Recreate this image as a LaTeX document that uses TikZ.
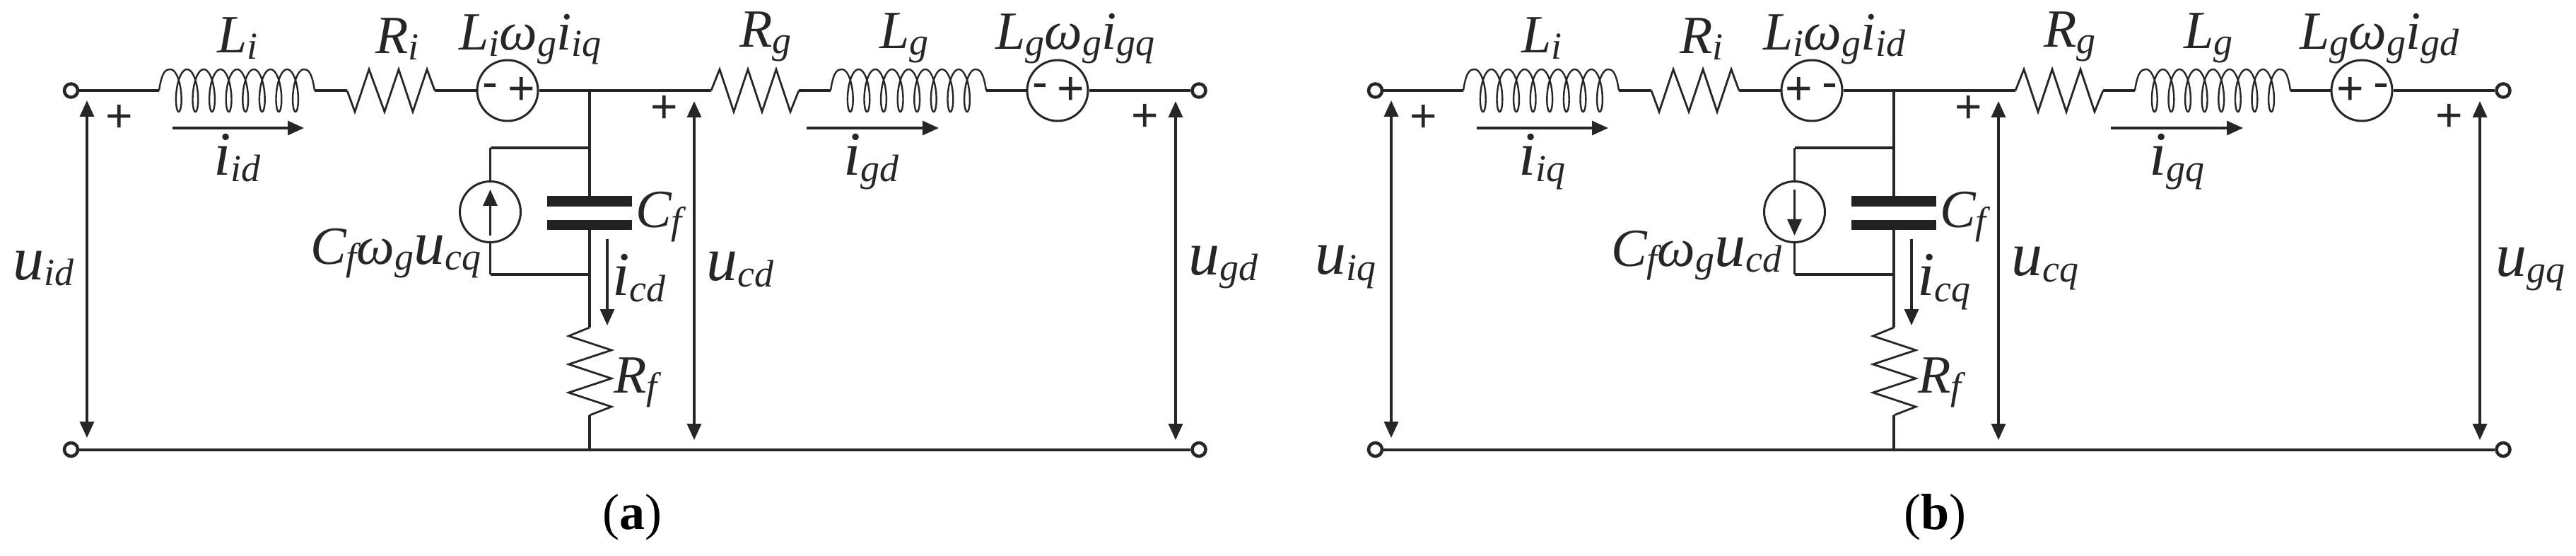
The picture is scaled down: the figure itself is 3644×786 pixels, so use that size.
\documentclass[tikz,border=0pt]{standalone}
\usepackage{fontspec}
\setmainfont{Liberation Serif}
\newfontfamily\signfont{Liberation Sans}
\usetikzlibrary{arrows.meta}
\definecolor{ink}{gray}{0.15}
\tikzset{
  wire/.style={draw=ink,line width=3.2pt},
  thinwire/.style={draw=ink,line width=2.8pt,line join=miter},
  coil/.style={draw=ink,line width=2.4pt},
  term/.style={circle,draw=ink,line width=4.5pt,fill=white,minimum size=19pt,inner sep=0pt},
  src/.style={circle,draw=ink,line width=3pt,fill=white,minimum size=86pt,inner sep=0pt},
  plate/.style={rectangle,fill=ink!90!black,minimum width=120pt,minimum height=14.5pt,inner sep=0pt},
  lbl/.style={anchor=base west,inner sep=0pt,text=ink},
  sign/.style={anchor=center,inner sep=0pt,text=ink,font=\signfont\fontsize{66}{70}\selectfont},
  arr/.style={draw=ink,line width=3.2pt,-{Triangle[length=23pt,width=20pt]}},
  darr/.style={draw=ink,line width=3.4pt,{Triangle[length=23pt,width=20pt]}-{Triangle[length=23pt,width=20pt]}},
  captxt/.style={anchor=base,inner sep=0pt,text=black,font=\fontsize{72}{76}\selectfont}
}
\newcommand{\lt}[1]{{\fontsize{76}{80}\selectfont\itshape #1}}
\newcommand{\uu}{{\fontsize{88}{90}\selectfont\itshape u}}
\newcommand{\ii}{{\fontsize{88}{90}\selectfont\itshape i}}
\newcommand{\sbs}[1]{\raisebox{-9pt}{\fontsize{54}{58}\selectfont\itshape #1}}
\newcommand{\coilpath}[1]{%
  \draw[coil] (#1,128) .. controls (#1+4,100) and (#1+10,98) .. (#1+16,98)
    -- plot[domain=0:2880,samples=289,smooth] ({#1+16+23.6*(\x/360)+9*sin(\x)},{128-30*cos(\x)})
    .. controls (#1+210,98) and (#1+216,100) .. (#1+220,128);}
\newcommand{\panel}[2]{%
\begin{scope}[shift={(#2,0)}]
  \node[term] (#1tl) at (100.5,128) {};
  \node[term] (#1bl) at (100.5,635.5) {};
  \node[term] (#1tr) at (1696,128) {};
  \node[term] (#1br) at (1696,635.5) {};
  \node[src] (#1s1) at (718,128) {};
  \node[src] (#1s2) at (1496,128) {};
  \node[src] (#1s3) at (693.5,299.5) {};
  \node[plate] (#1c1) at (834,284.5) {};
  \node[plate] (#1c2) at (834,318) {};
  \coordinate (#1La) at (225,128);
  \coordinate (#1Lb) at (445,128);
  \coordinate (#1Ra) at (491,128);
  \coordinate (#1Rb) at (615,128);
  \coordinate (#1j) at (834,128);
  \coordinate (#1Ga) at (1006,128);
  \coordinate (#1Gb) at (1130,128);
  \coordinate (#1Ha) at (1175,128);
  \coordinate (#1Hb) at (1395,128);
  \coordinate (#1jt) at (834,209);
  \coordinate (#1st) at (693.5,209);
  \coordinate (#1sb) at (693.5,388);
  \coordinate (#1jr) at (834,388);
  \coordinate (#1Fa) at (834,463);
  \coordinate (#1Fb) at (834,587);
  \coordinate (#1jb) at (834,636);
  \draw[wire] (#1tl) -- (#1La);
  \draw[wire] (#1Lb) -- (#1Ra);
  \draw[wire] (#1Rb) -- (#1s1);
  \draw[wire] (#1s1) -- (#1j) -- (#1Ga);
  \draw[wire] (#1Gb) -- (#1Ha);
  \draw[wire] (#1Hb) -- (#1s2);
  \draw[wire] (#1s2) -- (#1tr);
  \draw[wire,line width=4pt] (#1bl) -- (#1br);
  \draw[wire] (#1j) -- (#1c1);
  \draw[wire] (#1c2) -- (#1Fa);
  \draw[wire] (#1Fb) -- (#1jb);
  \draw[wire,line width=4pt] (#1jt) -- (#1st);
  \draw[wire] (#1st) -- (#1s3);
  \draw[wire] (#1s3) -- (#1sb);
  \draw[wire,line width=4pt] (#1sb) -- (#1jr);
  \coilpath{225}
  \coilpath{1175}
  \draw[thinwire] (#1Ra) -- (502,158) -- (522,98) -- (544,158) -- (564,98) -- (584,158) -- (604,98) -- (#1Rb);
  \draw[thinwire] (#1Ga) -- (1018,98) -- (1038,158) -- (1058,98) -- (1078,158) -- (1098,98) -- (1118,158) -- (#1Gb);
  \draw[thinwire] (#1Fa) -- (804.5,475) -- (865,495) -- (804.5,515) -- (865,535) -- (804.5,555) -- (865,575) -- (#1Fb);
  \coordinate (#1ua1) at (123,142);
  \coordinate (#1ua2) at (123,619);
  \coordinate (#1ub1) at (982,143);
  \coordinate (#1ub2) at (982,622);
  \coordinate (#1uc1) at (1663,143);
  \coordinate (#1uc2) at (1663,622);
  \coordinate (#1ia1) at (244,181);
  \coordinate (#1ia2) at (430,181);
  \coordinate (#1ib1) at (1141,181);
  \coordinate (#1ib2) at (1328,181);
  \coordinate (#1ic1) at (859,338);
  \coordinate (#1ic2) at (859,460);
  \draw[darr] (#1ua1) -- (#1ua2);
  \draw[darr] (#1ub1) -- (#1ub2);
  \draw[darr] (#1uc1) -- (#1uc2);
  \draw[arr] (#1ia1) -- (#1ia2);
  \draw[arr] (#1ib1) -- (#1ib2);
  \draw[arr] (#1ic1) -- (#1ic2);
  \node[sign] (#1pa) at (169,167) {+};
  \node[sign] (#1pb) at (940,154) {+};
  \node[sign] (#1pc) at (1620,166) {+};
  \node[lbl] (#1Li) at (307,75) {\lt{L}\sbs{i}};
  \node[lbl] (#1Ri) at (531,76) {\lt{R}\sbs{i}};
  \node[lbl] (#1Rg) at (1046,67) {\lt{R}\sbs{g}};
  \node[lbl] (#1Lg) at (1244,69) {\lt{L}\sbs{g}};
  \node[lbl] (#1Cf) at (899,322) {\lt{C}\sbs{f}};
  \node[lbl] (#1Rf) at (868,555) {\lt{R}\sbs{f}};
\end{scope}}
\begin{document}
\begin{tikzpicture}[x=1pt,y=-1pt]
\useasboundingbox (0,0) rectangle (3644,786);
\panel{a}{0}
\panel{b}{1845}
% panel (a)
\coordinate (asa) at (693.5,333);
\coordinate (asb) at (693.5,268);
\draw[arr] (asa) -- (asb);
\node[sign] (am1) at (693,128) {-};
\node[sign] (ap1) at (738,128) {+};
\node[sign] (am2) at (1471,128) {-};
\node[sign] (ap2) at (1515,128) {+};
\node[lbl] (aV1) at (649,71) {\lt{L}\sbs{i}\lt{ω}\sbs{g}\lt{i}\sbs{iq}};
\node[lbl] (aV2) at (1408,70) {\lt{L}\sbs{g}\lt{ω}\sbs{g}\lt{i}\sbs{gq}};
\node[lbl] (aV3) at (439,373) {\lt{C}\sbs{f}\lt{ω}\sbs{g}\uu\sbs{cq}};
\node[lbl] (aI1) at (302,248) {\ii\sbs{id}};
\node[lbl] (aI2) at (1193,248) {\ii\sbs{gd}};
\node[lbl] (aI3) at (866,417) {\ii\sbs{cd}};
\node[lbl] (aU1) at (18,395) {\uu\sbs{id}};
\node[lbl] (aU2) at (999,396) {\uu\sbs{cd}};
\node[lbl] (aU3) at (1681,388) {\uu\sbs{gd}};
\node[captxt] (acap) at (894.5,748) {(\textbf{a})};
% panel (b)
\coordinate (bsa) at (2538.5,268);
\coordinate (bsb) at (2538.5,333);
\draw[arr] (bsa) -- (bsb);
\node[sign] (bp1) at (2544.5,128) {+};
\node[sign] (bm1) at (2588,128) {-};
\node[sign] (bp2) at (3325,128) {+};
\node[sign] (bm2) at (3368,128) {-};
\node[lbl] (bV1) at (2494,71) {\lt{L}\sbs{i}\lt{ω}\sbs{g}\lt{i}\sbs{id}};
\node[lbl] (bV2) at (3253,70) {\lt{L}\sbs{g}\lt{ω}\sbs{g}\lt{i}\sbs{gd}};
\node[lbl] (bV3) at (2279,376) {\lt{C}\sbs{f}\lt{ω}\sbs{g}\uu\sbs{cd}};
\node[lbl] (bI1) at (2148,248) {\ii\sbs{iq}};
\node[lbl] (bI2) at (3040,248) {\ii\sbs{gq}};
\node[lbl] (bI3) at (2712,417) {\ii\sbs{cq}};
\node[lbl] (bU1) at (1860,387) {\uu\sbs{iq}};
\node[lbl] (bU2) at (2845,389) {\uu\sbs{cq}};
\node[lbl] (bU3) at (3530,390) {\uu\sbs{gq}};
\node[captxt] (bcap) at (2737,748) {(\textbf{b})};
\end{tikzpicture}
\end{document}
